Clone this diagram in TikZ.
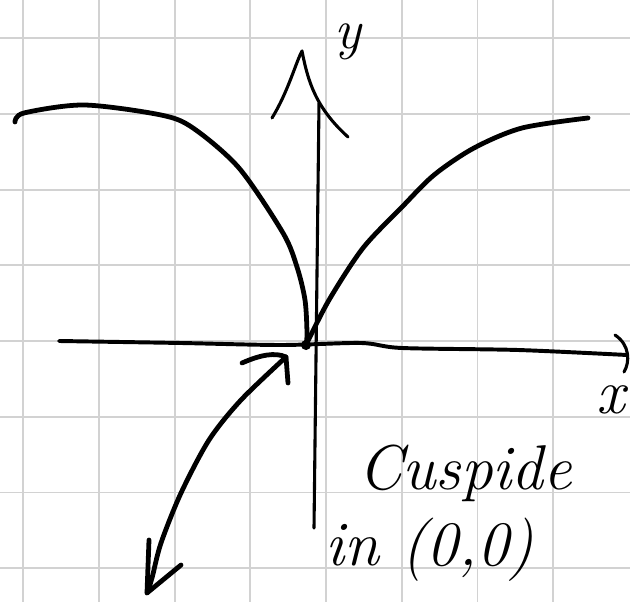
\documentclass[tikz,border=0pt]{standalone}
\begin{document}
\begin{tikzpicture}[x=0.025cm,y=-0.025cm,
  gridline/.style={gray!35,line width=1.3pt},
  pen/.style={line width=3.4pt,line cap=round,line join=round},
  thinpen/.style={line width=2.2pt,line cap=round,line join=round},
  hand/.style={font=\fontsize{45}{50}\selectfont\itshape,inner sep=0pt}]

\useasboundingbox (0,0) rectangle (630,602);
% squared paper
\foreach \k in {0,...,7}{
  \draw[gridline] ({23.3+75.7*\k},0) -- ({23.3+75.7*\k},602);
  \draw[gridline] (0,{38.3+75.7*\k}) -- (630,{38.3+75.7*\k});
}

\coordinate (cusp) at (306,345);
\coordinate (xstart) at (59,341);
\coordinate (xend) at (627,355);
\coordinate (ystart) at (314,528);
\coordinate (yend) at (319,103);
\coordinate (tipA) at (286,357);
\coordinate (tipB) at (147,593);

% axes
\draw[pen,line width=2.8pt] plot[smooth] coordinates {(xstart) (181,343) (281,345) (361,343) (402,348) (518,350) (xend)};
\draw[thinpen] (615,335) .. controls (630,345) and (630,362) .. (624,372);
\draw[thinpen] (ystart) -- (yend);
\draw[thinpen] (272,118) .. controls (288,92) and (296,62) .. (302,51) .. controls (308,82) and (316,108) .. (348,137);

% the curve
\draw[pen] plot[smooth] coordinates {(15,122) (24,113) (84,105) (161,115) (193,128) (239,168) (283,233) (297,267) (305,300) (307,333) (cusp)};
\draw[pen] plot[smooth] coordinates {(cusp) (329,300) (363,248) (402,207) (434,175) (474,148) (522,128) (588,118)};
\fill (cusp) circle (3.6pt);

% labels
\node[hand,font=\fontsize{40}{44}\selectfont\itshape] (ylabel) at (348,42) {y};
\node[hand] (xlabel) at (611,400) {x};
\node[hand,anchor=base west] (note) at (358,489) {Cuspide};
\node[hand,anchor=base west] (where) at (325,565) {in (0,0)};

% pointer
\draw[pen] plot[smooth] coordinates {(tipA) (241,400) (209,440) (181,493) (161,543) (152,578) (tipB)};
\draw[pen] (242,363) .. controls (260,355) and (275,352) .. (tipA) -- (288,383);
\draw[pen] (149,540) -- (tipB) -- (181,565);
\end{tikzpicture}
\end{document}
